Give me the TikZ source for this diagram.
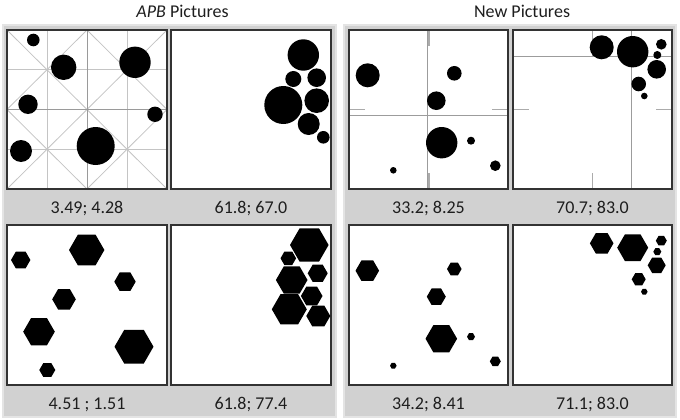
\documentclass[tikz,border=0pt]{standalone}
\usepackage{fontspec}
\setmainfont{Carlito}
\definecolor{panelgray}{HTML}{D1D1D1}
\definecolor{paneledge}{HTML}{E4E4E4}
\definecolor{boxc}{HTML}{333333}
\definecolor{txt}{HTML}{1E1E1E}
\definecolor{gridl}{HTML}{C4C4C4}
\definecolor{gridc}{HTML}{9A9A9A}
\definecolor{crossl}{HTML}{9C9C9C}
\newcommand\hx[3]{\fill[dot] (#1,#2) +(0:#3pt) -- +(60:#3pt) -- +(120:#3pt) -- +(180:#3pt) -- +(240:#3pt) -- +(300:#3pt) -- cycle;}
\newcommand\cc[3]{\fill[dot] (#1,#2) circle[radius=#3pt];}
\begin{document}
\begin{tikzpicture}[x=1pt,y=-1pt,
  panel/.style={fill=panelgray, draw=paneledge, line width=1.2pt},
  box/.style={fill=white, draw=boxc, line width=1.4pt},
  lbl/.style={anchor=base, inner sep=0pt, text=txt, font=\fontsize{18}{20}\selectfont},
  dot/.style={fill=black},
  gridline/.style={draw=gridl, line width=0.8pt},
  gridmid/.style={draw=gridc, line width=0.9pt},
  crossline/.style={draw=crossl, line width=0.9pt},
  tickline/.style={draw=crossl!85, line width=1.8pt}]
\useasboundingbox (0,0) rectangle (680,420);
\fill[white] (0,0) rectangle (680,420);
% panels
\path[panel] (3,25) rectangle (336,417);
\path[panel] (344,25) rectangle (676,417);
% titles
\node[lbl] (t1) at (182.5,17.5) {\textit{APB} Pictures};
\node[lbl] (t2) at (522,17.5) {New Pictures};
% boxes
\path[box] (7,30) rectangle (167,189);
\path[box] (171,30) rectangle (331,189);
\path[box] (7,225) rectangle (167,385);
\path[box] (171,225) rectangle (331,385);
\path[box] (349,30) rectangle (508,189);
\path[box] (513,30) rectangle (672,189);
\path[box] (349,225) rectangle (508,385);
\path[box] (513,225) rectangle (672,385);
% grid in APB box
\begin{scope}
\clip (7,30) rectangle (167,189);
\foreach \x in {47,127} \draw[gridline] (\x,30) -- (\x,189);
\foreach \y in {69.75,149.25} \draw[gridline] (7,\y) -- (167,\y);
\draw[gridline] (7,30) -- (167,189);
\draw[gridline] (167,30) -- (7,189);
\draw[gridline] (87,30) -- (167,109.5) -- (87,189) -- (7,109.5) -- cycle;
\draw[gridmid] (87,30) -- (87,189);
\draw[gridmid] (7,109.5) -- (167,109.5);
\end{scope}
\draw[box, fill=none] (7,30) rectangle (167,189);
% crosses in new boxes
\draw[crossline] (427,30) -- (427,189);
\draw[crossline] (349,115) -- (508,115);
\draw[tickline] (429,30) -- (429,46);
\draw[tickline] (429,173) -- (429,189);
\draw[tickline] (349,109.5) -- (365,109.5);
\draw[tickline] (492,109.5) -- (508,109.5);
\draw[crossline] (631,30) -- (631,189);
\draw[crossline] (513,56.7) -- (672,56.7);
\draw[crossline] (592.5,30) -- (592.5,56.7);
\draw[tickline] (592.5,30) -- (592.5,46);
\draw[tickline] (592.5,173) -- (592.5,189);
\draw[tickline] (513,109.5) -- (529,109.5);
\draw[tickline] (656,109.5) -- (672,109.5);
\draw[box, fill=none] (349,30) rectangle (508,189);
\draw[box, fill=none] (513,30) rectangle (672,189);
% circles APB 1
\cc{33.3}{40}{6.3}
\cc{63.7}{67.3}{12.7}
\cc{135}{62.3}{15.7}
\cc{28}{104.3}{9.7}
\cc{155}{114.3}{7.7}
\cc{21}{151}{11}
\cc{95.7}{146}{19}
% circles APB 2
\cc{303.3}{55}{15.7}
\cc{293.3}{79}{8}
\cc{316.7}{77.7}{9.3}
\cc{283.3}{105}{19}
\cc{316.7}{100.7}{12.3}
\cc{308.7}{124}{11}
\cc{323.3}{137.3}{6.3}
% circles New 1
\cc{367.7}{75.3}{12}
\cc{454.3}{73.3}{7.3}
\cc{436.3}{100.7}{9.3}
\cc{441.7}{142.7}{15.7}
\cc{471}{140.7}{4}
\cc{495.3}{165.7}{5.3}
\cc{393.3}{170.3}{3.3}
% circles New 2
\cc{601.7}{47.3}{12}
\cc{632.7}{51.7}{15.7}
\cc{661.3}{44.3}{5.3}
\cc{657.3}{55}{4}
\cc{656.7}{69.3}{9.3}
\cc{638.7}{84}{7.3}
\cc{644.3}{96}{3.3}
% hexagons APB 1
\hx{86.7}{250}{17.7}
\hx{20.7}{260}{9.7}
\hx{125}{281.7}{10.7}
\hx{64}{299.3}{11.8}
\hx{39}{331.7}{15.8}
\hx{134}{346.7}{19.5}
\hx{47.3}{370}{8}
% hexagons APB 2
\hx{309.3}{245}{19.3}
\hx{288.3}{258.3}{7.8}
\hx{291.7}{280}{15.8}
\hx{317.7}{273.3}{10}
\hx{311.7}{296}{10.8}
\hx{289.3}{309.3}{17.5}
\hx{318.3}{316}{12}
% hexagons New 1
\hx{367.3}{270.7}{11.8}
\hx{454.3}{269}{7.3}
\hx{436.3}{296.7}{9.5}
\hx{441.3}{338.7}{15.8}
\hx{471}{336.7}{4}
\hx{495.3}{361.3}{5.5}
\hx{393.3}{365.7}{3.3}
% hexagons New 2
\hx{601.7}{243.3}{11.8}
\hx{632.7}{247.7}{15.5}
\hx{661.3}{240.7}{5.5}
\hx{657.3}{251.7}{4}
\hx{656.7}{265.3}{9}
\hx{638.7}{279.3}{7}
\hx{644.3}{291.7}{3.3}
% labels
\node[lbl] (a1) at (87,213.3) {3.49; 4.28};
\node[lbl] (a2) at (251,213.3) {61.8; 67.0};
\node[lbl] (a3) at (428.5,213.3) {33.2; 8.25};
\node[lbl] (a4) at (592.5,213.3) {70.7; 83.0};
\node[lbl] (b1) at (87,409.3) {4.51 ; 1.51};
\node[lbl] (b2) at (251,409.3) {61.8; 77.4};
\node[lbl] (b3) at (428.5,409.3) {34.2; 8.41};
\node[lbl] (b4) at (592.5,409.3) {71.1; 83.0};
\end{tikzpicture}
\end{document}
